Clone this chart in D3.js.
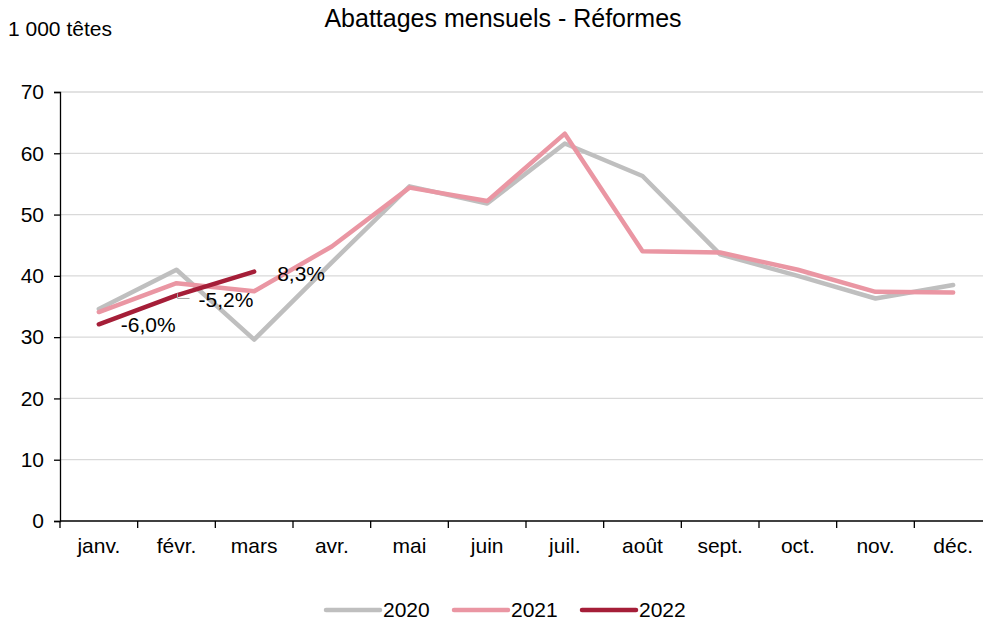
<!DOCTYPE html>
<meta charset="utf-8">
<style>
body { margin: 0; background: #fff; }
text { font-family: "Liberation Sans", Arial, sans-serif; fill: #000; }
</style>
<svg width="983" height="621"></svg>
<script src="https://d3js.org/d3.v7.min.js"></script>
<script>
var months = ["janv.", "févr.", "mars", "avr.", "mai", "juin", "juil.", "août", "sept.", "oct.", "nov.", "déc."];
var v2020 = [34.6, 41.0, 29.6, 42.2, 54.6, 51.8, 61.6, 56.3, 43.5, 40.0, 36.3, 38.5];
var v2021 = [34.1, 38.8, 37.5, 44.8, 54.4, 52.2, 63.2, 44.0, 43.8, 41.0, 37.4, 37.3];
var v2022 = [32.1, 36.8, 40.7];
var labels2022 = ["-6,0%", "-5,2%", "8,3%"];
var yTicks = [0, 10, 20, 30, 40, 50, 60, 70];

var series = [
  {name: "2020", values: v2020, color: "#bfbfbf"},
  {name: "2021", values: v2021, color: "#ea96a3"},
  {name: "2022", values: v2022, color: "#a51e38"}
];

var svg = d3.select("svg");
var mLeft = 60, mRight = 992, mTop = 92, mBottom = 521;

var x = d3.scaleBand().domain(months).range([mLeft, mRight]).padding(0);
var y = d3.scaleLinear().domain([0, 70]).range([mBottom, mTop]);
var cx = function(i) { return x(months[i]) + x.bandwidth() / 2; };

// grid
svg.append("g").selectAll("line")
  .data(yTicks.slice(1))
  .join("line")
    .attr("x1", mLeft).attr("x2", 983)
    .attr("y1", d => y(d)).attr("y2", d => y(d))
    .attr("stroke", "#d9d9d9").attr("stroke-width", 1.3);

// y axis
var yAxis = svg.append("g")
  .attr("transform", "translate(" + mLeft + ",0)")
  .call(d3.axisLeft(y).tickValues(yTicks).tickSize(6).tickPadding(10));
yAxis.select(".domain").attr("stroke", "#000").attr("stroke-width", 1.3);
yAxis.selectAll(".tick line").attr("stroke", "#000").attr("stroke-width", 1.3);
yAxis.selectAll("text").style("font-size", "21px").style("font-family", "Liberation Sans, Arial, sans-serif");

// x axis
var xAxis = svg.append("g")
  .attr("transform", "translate(0," + mBottom + ")")
  .call(d3.axisBottom(x).tickSize(0).tickPadding(17));
xAxis.select(".domain").remove();
xAxis.selectAll("text").style("font-size", "21px").style("font-family", "Liberation Sans, Arial, sans-serif");
svg.append("line")
  .attr("x1", mLeft).attr("x2", 983).attr("y1", mBottom).attr("y2", mBottom)
  .attr("stroke", "#000").attr("stroke-width", 1.3);
svg.append("g").selectAll("line")
  .data(months)
  .join("line")
    .attr("x1", d => x(d)).attr("x2", d => x(d))
    .attr("y1", mBottom).attr("y2", mBottom + 7)
    .attr("stroke", "#000").attr("stroke-width", 1.3);

// lines
var line = d3.line().x((d, i) => cx(i)).y(d => y(d));
svg.append("g").selectAll("path")
  .data(series)
  .join("path")
    .attr("d", d => line(d.values))
    .attr("fill", "none")
    .attr("stroke", d => d.color)
    .attr("stroke-width", 4.5)
    .attr("stroke-linejoin", "round")
    .attr("stroke-linecap", "round");

// 2022 labels
var offs = [[22, 8], [22, 12], [23, 9]];
svg.append("g").selectAll("text")
  .data(labels2022)
  .join("text")
    .attr("x", (d, i) => cx(i) + offs[i][0])
    .attr("y", (d, i) => y(v2022[i]) + offs[i][1])
    .style("font-size", "21px")
    .text(d => d);

// leader for -5,2%
var fx = cx(1), fy = y(v2022[1]);
svg.append("path")
  .attr("d", "M" + (fx + 1) + "," + (fy - 2) + "V" + (fy + 3) + "H" + (fx + 13))
  .attr("fill", "none").attr("stroke", "#a6a6a6").attr("stroke-width", 1);

// titles
svg.append("text").attr("x", 503).attr("y", 27).attr("text-anchor", "middle")
  .style("font-size", "25px").text("Abattages mensuels - Réformes");
svg.append("text").attr("x", 8).attr("y", 36)
  .style("font-size", "21px").text("1 000 têtes");

// legend
var legX = [326, 454, 582];
var leg = svg.append("g").selectAll("g")
  .data(series)
  .join("g")
    .attr("transform", (d, i) => "translate(" + legX[i] + ",610)");
leg.append("line")
  .attr("x1", 0).attr("x2", 54)
  .attr("stroke", d => d.color).attr("stroke-width", 4.5).attr("stroke-linecap", "round");
leg.append("text")
  .attr("x", 57).attr("y", 7)
  .style("font-size", "21px")
  .text(d => d.name);
</script>
